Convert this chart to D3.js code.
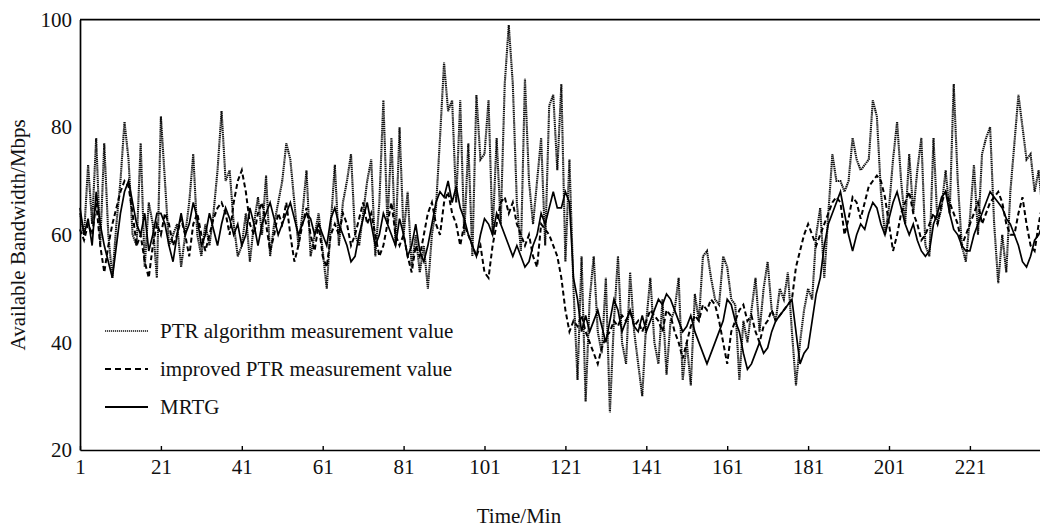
<!DOCTYPE html>
<html>
<head>
<meta charset="utf-8">
<script src="https://d3js.org/d3.v7.min.js"></script>
<style>
  html, body { margin: 0; padding: 0; background: #fff; }
  svg text { font-family: "Liberation Serif", "Times New Roman", serif; fill: #111; }
</style>
</head>
<body>
<svg id="chart" width="1040" height="530"></svg>
<script>
// ----------------------------------------------
// DATA (minute 1..240)
// ----------------------------------------------
const xTicks = [1, 21, 41, 61, 81, 101, 121, 141, 161, 181, 201, 221];
const yTicks = [20, 40, 60, 80, 100];

const seriesNames = ["PTR algorithm measurement value", "improved PTR measurement value", "MRTG"];

const ptrValues = [
  64, 60, 73, 62, 78, 58, 77, 60, 52, 62, 70, 81, 74, 60, 58, 77, 54, 66, 62, 52,
  82, 70, 58, 60, 62, 54, 60, 66, 75, 60, 56, 62, 58, 64, 72, 83, 70, 72, 62, 56,
  58, 64, 55, 62, 67, 60, 71, 56, 62, 66, 70, 77, 74, 66, 58, 64, 72, 56, 60, 64,
  57, 50, 62, 73, 58, 66, 70, 75, 60, 58, 64, 70, 74, 56, 66, 85, 62, 78, 58, 80,
  60, 68, 54, 60, 53, 58, 50, 60, 65, 78, 92, 83, 85, 66, 85, 60, 77, 56, 86, 74,
  75, 85, 60, 78, 62, 88, 99, 88, 66, 57, 89, 70, 62, 70, 78, 58, 84, 86, 72, 88,
  55, 74, 50, 33, 56, 29, 48, 56, 42, 38, 52, 27, 44, 56, 40, 36, 53, 42, 36, 30,
  44, 52, 40, 36, 48, 34, 44, 46, 52, 33, 40, 32, 49, 44, 56, 57, 52, 48, 47, 56,
  54, 48, 47, 33, 44, 40, 46, 52, 42, 50, 55, 46, 44, 50, 48, 53, 42, 32, 40, 46,
  50, 48, 60, 65, 52, 64, 75, 70, 70, 68, 70, 78, 74, 72, 73, 74, 85, 82, 68, 60,
  65, 74, 81, 70, 62, 75, 64, 72, 78, 58, 56, 78, 62, 65, 72, 64, 88, 70, 58, 55,
  63, 73, 60, 75, 78, 80, 62, 51, 60, 53, 68, 77, 86, 80, 74, 75, 68, 72, 64, 70
];

const improvedValues = [
  61, 59, 62, 60, 66, 58, 53, 58, 62, 65, 68, 70, 69, 64, 58, 60, 55, 52, 58, 62,
  60, 64, 62, 58, 60, 63, 60, 56, 62, 64, 60, 57, 60, 63, 65, 66, 64, 60, 66, 70,
  72, 68, 62, 60, 64, 66, 62, 57, 60, 64, 62, 66, 60, 55, 58, 62, 65, 60, 57, 62,
  56, 54, 60, 62, 60, 64, 62, 58, 60, 63, 66, 62, 64, 60, 56, 58, 62, 66, 60, 58,
  60, 56, 53, 58, 56, 60, 64, 66, 62, 60, 66, 68, 64, 62, 58, 62, 60, 58, 56, 58,
  53, 52, 58, 62, 66, 67, 64, 66, 62, 60, 58, 60, 56, 54, 62, 61, 60, 58, 56, 52,
  46, 42, 44, 43, 45, 42, 40, 38, 36, 39, 41, 42, 44, 43, 45, 44, 46, 43, 44, 42,
  44, 46, 45, 44, 42, 46, 45, 42, 40, 37, 40, 43, 45, 44, 47, 46, 48, 47, 44, 40,
  36, 42, 44, 46, 47, 44, 45, 42, 40, 43, 44, 46, 44, 45, 46, 47, 48, 54, 57, 60,
  62, 60, 58, 60, 62, 64, 66, 67, 66, 60, 63, 67, 66, 63, 66, 69, 70, 71, 70, 67,
  62, 57, 60, 64, 66, 68, 64, 62, 59, 60, 62, 64, 62, 66, 68, 66, 64, 62, 58, 60,
  62, 64, 66, 62, 64, 66, 67, 68, 66, 62, 60, 60, 64, 67, 62, 58, 57, 62, 66, 64
];

const mrtgValues = [
  65, 60, 63, 58, 68, 62, 58, 55, 52, 58, 64, 68, 70, 66, 62, 60, 64, 57, 60, 64,
  64, 62, 58, 55, 60, 64, 60, 62, 66, 63, 58, 60, 64, 61, 58, 62, 65, 63, 60, 62,
  58, 60, 65, 62, 58, 62, 64, 66, 63, 60, 62, 64, 66, 63, 60, 62, 64, 63, 60, 62,
  60, 58, 63, 65, 62, 60, 58, 55, 56, 60, 63, 66, 62, 58, 60, 64, 62, 60, 58, 63,
  60, 56, 58, 62, 57, 55, 58, 62, 66, 68, 67, 70, 66, 69, 65, 63, 60, 58, 56, 60,
  63, 62, 60, 64, 62, 60, 58, 56, 58, 56, 54, 55, 58, 60, 64, 62, 65, 68, 65, 65,
  68, 66, 52, 48, 42, 45, 42, 44, 46, 43, 40, 44, 48, 46, 42, 44, 46, 43, 42, 45,
  42, 44, 46, 48, 47, 49, 48, 46, 44, 42, 43, 45, 42, 40, 38, 36, 38, 40, 42, 44,
  48, 47, 44, 42, 38, 35, 36, 38, 40, 38, 39, 42, 44, 45, 46, 47, 48, 42, 36, 38,
  39, 44, 49, 52, 58, 62, 64, 66, 68, 64, 60, 57, 60, 62, 61, 64, 66, 65, 62, 60,
  63, 66, 68, 65, 62, 60, 62, 59, 57, 56, 57, 62, 64, 67, 68, 64, 61, 60, 58, 57,
  57, 60, 62, 64, 66, 68, 67, 66, 65, 63, 62, 60, 58, 55, 54, 56, 59, 60, 62, 64
];

// ----------------------------------------------
// LAYOUT
// ----------------------------------------------
const svg = d3.select("#chart");
const plotLeft = 80, plotTop = 19.6, plotBottom = 450;

const x = d3.scaleLinear().domain([1, 240]).range([plotLeft, plotLeft + 239 * 4.045]);
const y = d3.scaleLinear().domain([20, 100]).range([plotBottom, plotTop]);
const plotRight = x(240);

const series = [
  { name: seriesNames[0], values: ptrValues, dash: "1.4,0.7", width: 2.1, color: "#111" },
  { name: seriesNames[1], values: improvedValues, dash: "5,3", width: 2, color: "#000" },
  { name: seriesNames[2], values: mrtgValues, dash: null, width: 1.7, color: "#000" }
];

const line = d3.line()
  .x((d, i) => x(i + 1))
  .y(d => y(d));

// lines
series.forEach((s) => {
  svg.append("path")
    .datum(s.values)
    .attr("d", line)
    .attr("fill", "none")
    .attr("stroke", s.color)
    .attr("stroke-width", s.width)
    .attr("stroke-dasharray", s.dash)
    .attr("stroke-linejoin", "miter");
});

// ----------------------------------------------
// AXES + FRAME
// ----------------------------------------------
const xAxis = svg.append("g")
  .attr("transform", `translate(0,${plotBottom})`)
  .call(d3.axisBottom(x).tickValues(xTicks).tickSizeInner(-4).tickSizeOuter(0).tickPadding(9));

const yAxis = svg.append("g")
  .attr("transform", `translate(${plotLeft},0)`)
  .call(d3.axisLeft(y).tickValues(yTicks).tickSize(0).tickPadding(8));

[xAxis, yAxis].forEach((g) => {
  g.select(".domain").attr("stroke", "#000").attr("stroke-width", 1.7);
  g.selectAll(".tick line").attr("stroke", "#000").attr("stroke-width", 1.4);
  g.selectAll("text")
    .attr("font-family", "Liberation Serif, Times New Roman, serif")
    .attr("font-size", 21)
    .attr("fill", "#111");
});
xAxis.selectAll("text").attr("dy", "0.71em");

// top border
svg.append("line")
  .attr("x1", plotLeft).attr("x2", plotRight)
  .attr("y1", plotTop).attr("y2", plotTop)
  .attr("stroke", "#000")
  .attr("stroke-width", 1.7);

// axis titles
svg.append("text")
  .attr("transform", `translate(25,${(plotTop + plotBottom) / 2}) rotate(-90)`)
  .attr("text-anchor", "middle")
  .attr("font-size", 21)
  .text("Available Bandwidth/Mbps");

svg.append("text")
  .attr("x", 519)
  .attr("y", 523)
  .attr("text-anchor", "middle")
  .attr("font-size", 21)
  .text("Time/Min");

// ----------------------------------------------
// LEGEND
// ----------------------------------------------
const legendRows = [331, 369, 407];
const legend = svg.append("g");
series.forEach((s, i) => {
  legend.append("line")
    .attr("x1", 105).attr("x2", 148)
    .attr("y1", legendRows[i]).attr("y2", legendRows[i])
    .attr("stroke", s.color)
    .attr("stroke-width", s.dash === "5,3" ? 2 : (s.dash ? 1.5 : 2.2))
    .attr("stroke-dasharray", s.dash === "5,3" ? "6,4" : (s.dash ? "1.2,0.8" : null));
  legend.append("text")
    .attr("x", 160)
    .attr("y", legendRows[i] + 7)
    .attr("font-size", 21)
    .text(s.name);
});
</script>
</body>
</html>
